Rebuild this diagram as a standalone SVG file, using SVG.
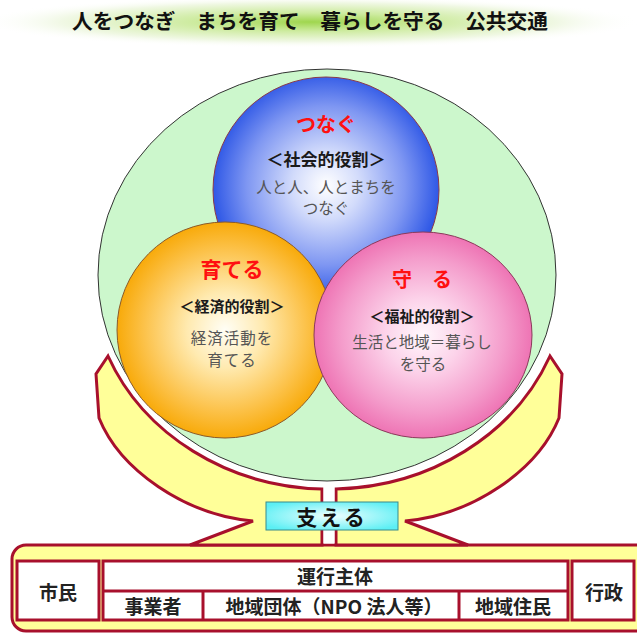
<svg xmlns="http://www.w3.org/2000/svg" width="637" height="633" viewBox="0 0 637 633">
<defs>
<radialGradient id="gTitle" cx="0.5" cy="0.5" r="0.5">
<stop offset="0" stop-color="#9fd64e"/>
<stop offset="0.35" stop-color="#cdeb9f"/>
<stop offset="0.75" stop-color="#f0f8e4"/>
<stop offset="1" stop-color="#ffffff" stop-opacity="0"/>
</radialGradient>
<radialGradient id="gBlue" cx="0.5" cy="0.48" r="0.5">
<stop offset="0" stop-color="#ffffff"/>
<stop offset="0.3" stop-color="#d2dbfb"/>
<stop offset="0.7" stop-color="#7f97f2"/>
<stop offset="1" stop-color="#2f58e6"/>
</radialGradient>
<radialGradient id="gOrange" cx="0.5" cy="0.5" r="0.5">
<stop offset="0" stop-color="#fffef6"/>
<stop offset="0.35" stop-color="#ffeab0"/>
<stop offset="0.75" stop-color="#fcc24a"/>
<stop offset="1" stop-color="#f8aa0a"/>
</radialGradient>
<radialGradient id="gPink" cx="0.5" cy="0.5" r="0.5">
<stop offset="0" stop-color="#fff8fc"/>
<stop offset="0.35" stop-color="#fcd3ea"/>
<stop offset="0.75" stop-color="#f49ccb"/>
<stop offset="1" stop-color="#ee74b4"/>
</radialGradient>
<radialGradient id="gCyan" cx="0.5" cy="0.5" r="0.6">
<stop offset="0" stop-color="#f0ffff"/>
<stop offset="1" stop-color="#5ceff4"/>
</radialGradient>
<style>
text{font-family:"Noto Sans CJK JP","Noto Sans",sans-serif;text-anchor:middle}
.head{font-size:20px;font-weight:bold;fill:#ff1010}
.role{font-weight:bold;fill:#1a1a1a}
.desc{font-size:15.5px;fill:#555555}
.cell{fill:#ffffff;stroke:#a8102c;stroke-width:3}
.lbl{font-size:19px;font-weight:bold;fill:#222222}
.band{fill:#ffff99;stroke:#a8102c;stroke-width:3;stroke-linejoin:miter}
</style>
</defs>
<rect width="637" height="633" fill="#ffffff"/>
<g id="title">
<ellipse cx="310" cy="22" rx="330" ry="26" fill="url(#gTitle)"/>
<text x="310" y="29" style="font-size:20.7px;font-weight:bold;fill:#111">人をつなぎ　まちを育て　暮らしを守る　公共交通</text>
</g>
<g id="frame">
<rect x="12" y="545" width="650" height="86" rx="14" fill="#ffff99" stroke="#a8102c" stroke-width="3"/>
</g>
<g id="support">
<path class="band" d="M108,356 L96,374 L99,418 C120,470 185,515 253,521 L190,545 L322,545 L322,489 A238,214 0 0 1 108,356 Z"/>
<path class="band" transform="translate(658,0) scale(-1,1)" d="M108,356 L96,374 L99,418 C120,470 185,515 253,521 L190,545 L322,545 L322,489 A238,214 0 0 1 108,356 Z"/>
<ellipse cx="327" cy="275" rx="233.5" ry="210.5" fill="#ffffff"/>
<rect x="323.5" y="480" width="11" height="63.5" fill="#ffffff"/>
</g>
<g id="outer">
<ellipse cx="327" cy="275" rx="229" ry="206" fill="#ccf7cc" stroke="#333333" stroke-width="1"/>
</g>
<g id="tsunagu">
<circle cx="326" cy="190" r="113" fill="url(#gBlue)" stroke="#8a3a4a" stroke-width="1"/>
<text class="head" x="326" y="132">つなぐ</text>
<text class="role" x="326" y="166" style="font-size:17px">＜社会的役割＞</text>
<text class="desc" x="326" y="193">人と人、人とまちを</text>
<text class="desc" x="326" y="214">つなぐ</text>
</g>
<g id="sodateru">
<circle cx="225" cy="330" r="108" fill="url(#gOrange)" stroke="#8a5a2a" stroke-width="1"/>
<text class="head" x="232" y="277" style="font-size:21px">育てる</text>
<text class="role" x="232" y="312" style="font-size:15px">＜経済的役割＞</text>
<text class="desc" x="232" y="344" style="letter-spacing:1px">経済活動を</text>
<text class="desc" x="232" y="366" style="letter-spacing:1px">育てる</text>
</g>
<g id="mamoru">
<ellipse cx="423" cy="335" rx="109" ry="103" fill="url(#gPink)" stroke="#8a3a5a" stroke-width="1"/>
<text class="head" x="422" y="287">守　る</text>
<text class="role" x="422" y="322" style="font-size:15px">＜福祉的役割＞</text>
<text class="desc" x="422" y="348">生活と地域＝暮らし</text>
<text class="desc" x="423" y="370">を守る</text>
</g>
<g id="sasaeru">
<rect x="266" y="502" width="132" height="28" fill="url(#gCyan)" stroke="#3a8a8a" stroke-width="1"/>
<text x="332" y="525" style="font-size:21px;font-weight:bold;fill:#111;letter-spacing:3px">支える</text>
</g>
<g id="shimin">
<rect class="cell" x="17" y="561" width="82" height="59"/>
<text class="lbl" x="58" y="600">市民</text>
</g>
<g id="unko">
<rect class="cell" x="103" y="561" width="465" height="59"/>
<line x1="103" y1="591" x2="568" y2="591" stroke="#a8102c" stroke-width="3"/>
<line x1="203" y1="591" x2="203" y2="620" stroke="#a8102c" stroke-width="3"/>
<line x1="459" y1="591" x2="459" y2="620" stroke="#a8102c" stroke-width="3"/>
<text class="lbl" x="335" y="584">運行主体</text>
<text class="lbl" x="153" y="614">事業者</text>
<text class="lbl" x="334" y="614">地域団体（NPO 法人等）</text>
<text class="lbl" x="513" y="614">地域住民</text>
</g>
<g id="gyosei">
<rect class="cell" x="572" y="561" width="62" height="59"/>
<text class="lbl" x="604" y="600">行政</text>
</g>
<g id="connectors"/>
</svg>
